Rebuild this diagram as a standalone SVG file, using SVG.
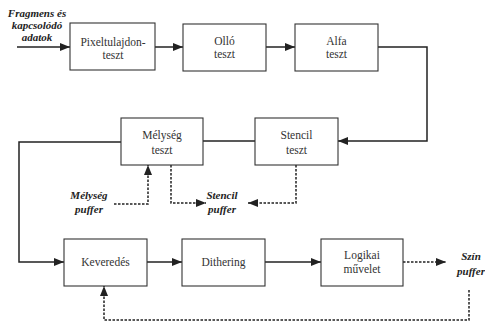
<svg xmlns="http://www.w3.org/2000/svg" width="485" height="322" viewBox="0 0 485 322">
<style>
.box{fill:#fff;stroke:#333;stroke-width:1.1}
.lbl{font-family:"Liberation Serif","Times New Roman",serif;font-size:11.5px;fill:#333;text-anchor:middle}
.buf{font-family:"Liberation Serif","Times New Roman",serif;font-size:11px;font-weight:bold;font-style:italic;fill:#222;text-anchor:middle}
.ln{fill:none;stroke:#222;stroke-width:1.5}
.ds{fill:none;stroke:#222;stroke-width:1.5;stroke-dasharray:2.5,1.5}
</style>
<defs>
<marker id="ar" viewBox="0 0 10 8" refX="10" refY="4" markerWidth="10" markerHeight="8" markerUnits="userSpaceOnUse" orient="auto">
<path d="M0,0 L10,4 L0,8 Z" fill="#222"/>
</marker>
</defs>
<g id="connectors">
<path class="ln" d="M17,47 H70" marker-end="url(#ar)"/>
<path class="ln" d="M155,47 H183" marker-end="url(#ar)"/>
<path class="ln" d="M266,47 H295" marker-end="url(#ar)"/>
<path class="ln" d="M378,47 H427 V141 H338" marker-end="url(#ar)"/>
<path class="ln" d="M255,141 H203"/>
<path class="ln" d="M121,142 H19 V262 H64" marker-end="url(#ar)"/>
<path class="ln" d="M147,262 H182" marker-end="url(#ar)"/>
<path class="ln" d="M265,262 H321" marker-end="url(#ar)"/>
<path class="ds" d="M403,262 H446" marker-end="url(#ar)"/>
<path class="ds" d="M114,204 H148 V165" marker-end="url(#ar)"/>
<path class="ds" d="M171,165 V203 H206" marker-end="url(#ar)"/>
<path class="ds" d="M296,165 V203 H248" marker-start="url(#ar)" marker-end="url(#ar)"/>
<path class="ds" d="M469,290 V320 H104 V286" marker-end="url(#ar)"/>
</g>
<g id="input">
<text class="buf" x="37" y="17">Fragmens és</text>
<text class="buf" x="37" y="29">kapcsolódó</text>
<text class="buf" x="37" y="41">adatok</text>
</g>
<g id="pixel"><rect class="box" x="70" y="23" width="85" height="47"/>
<text class="lbl" x="113" y="46">Pixeltulajdon-</text><text class="lbl" x="113" y="59">teszt</text></g>
<g id="ollo"><rect class="box" x="183" y="24" width="83" height="47"/>
<text class="lbl" x="224.5" y="45">Olló</text><text class="lbl" x="224.5" y="58">teszt</text></g>
<g id="alfa"><rect class="box" x="295" y="24" width="83" height="47"/>
<text class="lbl" x="336.5" y="45">Alfa</text><text class="lbl" x="336.5" y="58">teszt</text></g>
<g id="melyseg"><rect class="box" x="121" y="118" width="82" height="47"/>
<text class="lbl" x="162" y="139">Mélység</text><text class="lbl" x="162" y="154">teszt</text></g>
<g id="stencil"><rect class="box" x="255" y="118" width="83" height="47"/>
<text class="lbl" x="296.5" y="139">Stencil</text><text class="lbl" x="296.5" y="154">teszt</text></g>
<g id="melyseg-puffer"><text class="buf" x="89" y="199">Mélység</text><text class="buf" x="89" y="213">puffer</text></g>
<g id="stencil-puffer"><text class="buf" x="222" y="199">Stencil</text><text class="buf" x="222" y="213">puffer</text></g>
<g id="keveredes"><rect class="box" x="64" y="239" width="83" height="47"/>
<text class="lbl" x="105.5" y="266">Keveredés</text></g>
<g id="dithering"><rect class="box" x="182" y="239" width="83" height="47"/>
<text class="lbl" x="223.5" y="266">Dithering</text></g>
<g id="logikai"><rect class="box" x="321" y="239" width="82" height="47"/>
<text class="lbl" x="362" y="259">Logikai</text><text class="lbl" x="362" y="273">művelet</text></g>
<g id="szin-puffer"><text class="buf" x="471" y="260">Szín</text><text class="buf" x="471" y="275">puffer</text></g>
</svg>
